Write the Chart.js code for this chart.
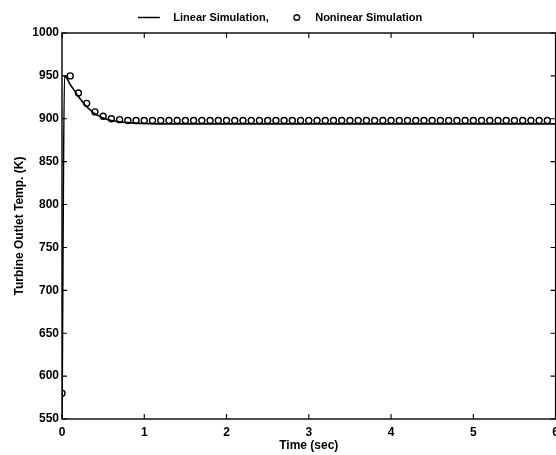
<!DOCTYPE html>
<html>
<head>
<meta charset="utf-8">
<script src="https://cdn.jsdelivr.net/npm/chart.js@4.4.1/dist/chart.umd.min.js"></script>
<style>
  html, body { margin: 0; padding: 0; background: #fff; overflow: hidden; }
  #wrap { width: 561px; height: 455px; }
</style>
</head>
<body>
<div id="wrap"><canvas id="tempChart"></canvas></div>
<script>
// Linear simulation response
const linearTime = [0, 0.03, 0.1, 0.2, 0.3, 0.4, 0.5, 0.6, 0.7, 0.8, 1.0, 1.2, 1.5, 2, 3, 4, 5, 6];
const linearTemp = [550, 950, 940, 926, 914, 906, 901, 898, 896.5, 895.5, 894.5, 894, 894, 894, 894, 894, 894, 894];

// Nonlinear simulation samples (every 0.1 s)
const nonlinearTime = [0, 0.1, 0.2, 0.3, 0.4, 0.5, 0.6, 0.7, 0.8, 0.9,
    1.0, 1.1, 1.2, 1.3, 1.4, 1.5, 1.6, 1.7, 1.8, 1.9,
    2.0, 2.1, 2.2, 2.3, 2.4, 2.5, 2.6, 2.7, 2.8, 2.9,
    3.0, 3.1, 3.2, 3.3, 3.4, 3.5, 3.6, 3.7, 3.8, 3.9,
    4.0, 4.1, 4.2, 4.3, 4.4, 4.5, 4.6, 4.7, 4.8, 4.9,
    5.0, 5.1, 5.2, 5.3, 5.4, 5.5, 5.6, 5.7, 5.8, 5.9];
const nonlinearTemp = [580, 950, 930, 918, 908, 903, 900, 899, 898, 898,
    898, 898, 898, 898, 898, 898, 898, 898, 898, 898,
    898, 898, 898, 898, 898, 898, 898, 898, 898, 898,
    898, 898, 898, 898, 898, 898, 898, 898, 898, 898,
    898, 898, 898, 898, 898, 898, 898, 898, 898, 898,
    898, 898, 898, 898, 898, 898, 898, 898, 898, 898];

const xTicks = [0, 1, 2, 3, 4, 5, 6];
const yTicks = [550, 600, 650, 700, 750, 800, 850, 900, 950, 1000];

const toPoints = (xs, ys) => xs.map((x, i) => ({ x: x, y: ys[i] }));

// small legend symbols
function legendSymbol(kind) {
    const c = document.createElement('canvas');
    c.width = 30; c.height = 9;
    const g = c.getContext('2d');
    g.strokeStyle = '#000';
    if (kind === 'line') {
        g.lineWidth = 1.5;
        g.beginPath(); g.moveTo(0, 4.5); g.lineTo(22, 4.5); g.stroke();
    } else {
        g.lineWidth = 1.4;
        g.beginPath(); g.arc(17, 4.5, 2.8, 0, Math.PI * 2); g.stroke();
    }
    return c;
}
const lineSymbol = legendSymbol('line');
const circleSymbol = legendSymbol('circle');

// draws the box frame with inward ticks on all four sides
const frameTicks = {
    id: 'frameTicks',
    afterDraw(chart) {
        const { ctx, chartArea: a, scales } = chart;
        const len = 5;
        ctx.save();
        ctx.strokeStyle = '#000';
        ctx.lineWidth = 1.4;
        ctx.strokeRect(a.left, a.top, a.right - a.left, a.bottom - a.top);
        ctx.lineWidth = 1.1;
        scales.x.ticks.forEach(t => {
            const px = scales.x.getPixelForValue(t.value);
            ctx.beginPath();
            ctx.moveTo(px, a.bottom); ctx.lineTo(px, a.bottom - len);
            ctx.moveTo(px, a.top); ctx.lineTo(px, a.top + len);
            ctx.stroke();
        });
        scales.y.ticks.forEach(t => {
            const py = scales.y.getPixelForValue(t.value);
            ctx.beginPath();
            ctx.moveTo(a.left, py); ctx.lineTo(a.left + len, py);
            ctx.moveTo(a.right, py); ctx.lineTo(a.right - len, py);
            ctx.stroke();
        });
        ctx.restore();
    }
};

const family = 'Liberation Sans, Arial, sans-serif';
const tickFont = { family: family, size: 12, weight: 'bold' };
const titleFont = { family: family, size: 12, weight: 'bold' };

new Chart(document.getElementById('tempChart'), {
    type: 'scatter',
    data: {
        datasets: [
            {
                label: 'Linear Simulation,',
                data: toPoints(linearTime, linearTemp),
                showLine: true,
                borderColor: '#000',
                backgroundColor: '#000',
                borderWidth: 1.6,
                pointRadius: 0,
                cubicInterpolationMode: 'monotone'
            },
            {
                label: 'Noninear Simulation',
                data: toPoints(nonlinearTime, nonlinearTemp),
                showLine: false,
                borderColor: '#000',
                backgroundColor: 'rgba(0,0,0,0)',
                borderWidth: 1.4,
                pointRadius: 3,
                pointStyle: 'circle'
            }
        ]
    },
    options: {
        responsive: true,
        maintainAspectRatio: false,
        animation: false,
        layout: { padding: { top: 1, right: 1, bottom: 0, left: 0 } },
        plugins: {
            legend: {
                position: 'top',
                labels: {
                    usePointStyle: true,
                    pointStyleWidth: 30,
                    boxHeight: 9,
                    padding: 11,
                    color: '#000',
                    font: { family: family, size: 11, weight: 'bold' },
                    generateLabels(chart) {
                        const items = Chart.defaults.plugins.legend.labels.generateLabels(chart);
                        items[0].pointStyle = lineSymbol;
                        items[1].pointStyle = circleSymbol;
                        return items;
                    }
                }
            },
            tooltip: { enabled: false }
        },
        scales: {
            x: {
                type: 'linear',
                min: 0,
                max: 6,
                afterBuildTicks: s => { s.ticks = xTicks.map(v => ({ value: v })); },
                afterFit: s => { s.height = 36; s.paddingLeft = 0; s.paddingRight = 0; },
                grid: { display: false, drawTicks: false },
                border: { display: false },
                ticks: { color: '#000', font: tickFont, padding: 6, maxRotation: 0, callback: v => String(v) },
                title: {
                    display: true,
                    text: 'Time (sec)',
                    color: '#000',
                    font: titleFont,
                    padding: { top: 0, bottom: 2 }
                }
            },
            y: {
                min: 550,
                max: 1000,
                afterBuildTicks: s => { s.ticks = yTicks.map(v => ({ value: v })); },
                afterFit: s => { s.width = 62; s.paddingTop = 0; s.paddingBottom = 0; },
                grid: { display: false, drawTicks: false },
                border: { display: false },
                ticks: { color: '#000', font: tickFont, padding: 3, callback: v => String(v) },
                title: {
                    display: true,
                    text: 'Turbine Outlet Temp. (K)',
                    color: '#000',
                    font: titleFont,
                    padding: { top: 12, bottom: 0 }
                }
            }
        }
    },
    plugins: [frameTicks]
});
</script>
</body>
</html>
